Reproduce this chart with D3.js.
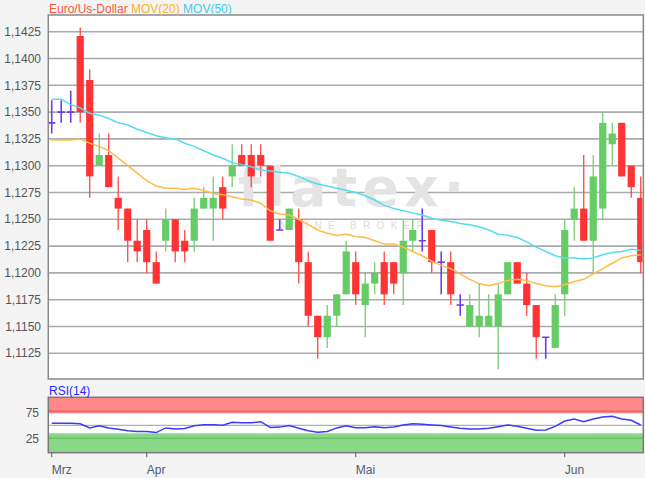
<!DOCTYPE html>
<html><head><meta charset="utf-8">
<script src="https://cdn.jsdelivr.net/npm/d3@7"></script>
<style>
body{margin:0;background:#f4f4f4;}
svg{display:block;font-family:"Liberation Sans",Arial,sans-serif;}
</style>
</head><body><svg id="c" width="645" height="478"></svg>
<script>
const opens=[1.1340,1.1350,1.1350,1.1421,1.1380,1.1300,1.1310,1.1270,1.1260,1.1230,
1.1240,1.1210,1.1230,1.1250,1.1230,1.1230,1.1260,1.1260,1.1280,1.1290,
1.1310,1.1310,1.1310,1.1300,1.1240,1.1240,1.1250,1.1210,1.1160,1.1140,
1.1160,1.1180,1.1210,1.1170,1.1190,1.1210,1.1210,1.1200,1.1230,1.1230,
1.1240,1.1210,1.1210,1.1170,1.1150,1.1150,1.1150,1.1150,1.1180,1.1210,
1.1190,1.1170,1.1140,1.1130,1.1180,1.1250,1.1260,1.1230,1.1260,1.1320,
1.1340,1.1300,1.1270];
const highs=[1.1361,1.1361,1.1370,1.1429,1.1390,1.1330,1.1330,1.1290,1.1260,1.1250,
1.1250,1.1220,1.1260,1.1250,1.1240,1.1270,1.1280,1.1290,1.1290,1.1320,
1.1320,1.1320,1.1320,1.1300,1.1250,1.1260,1.1260,1.1220,1.1160,1.1170,
1.1180,1.1230,1.1220,1.1200,1.1210,1.1220,1.1210,1.1250,1.1250,1.1260,
1.1240,1.1220,1.1220,1.1180,1.1180,1.1190,1.1180,1.1190,1.1210,1.1210,
1.1200,1.1170,1.1140,1.1180,1.1250,1.1280,1.1310,1.1310,1.1350,1.1340,
1.1340,1.1300,1.1290];
const lows=[1.1330,1.1340,1.1340,1.1340,1.1270,1.1300,1.1280,1.1240,1.1210,1.1210,
1.1200,1.1190,1.1220,1.1210,1.1210,1.1220,1.1260,1.1230,1.1250,1.1280,
1.1300,1.1280,1.1290,1.1230,1.1240,1.1240,1.1190,1.1150,1.1120,1.1130,
1.1150,1.1180,1.1170,1.1140,1.1180,1.1170,1.1180,1.1170,1.1220,1.1220,
1.1200,1.1180,1.1170,1.1160,1.1150,1.1140,1.1150,1.1110,1.1180,1.1190,
1.1160,1.1120,1.1120,1.1130,1.1160,1.1230,1.1230,1.1200,1.1250,1.1300,
1.1290,1.1270,1.1200];
const closes=[1.1340,1.1350,1.1350,1.1350,1.1290,1.1310,1.1280,1.1260,1.1230,1.1220,
1.1210,1.1190,1.1250,1.1220,1.1220,1.1260,1.1270,1.1270,1.1260,1.1300,
1.1300,1.1290,1.1300,1.1230,1.1240,1.1260,1.1210,1.1160,1.1140,1.1160,
1.1180,1.1220,1.1180,1.1190,1.1200,1.1180,1.1190,1.1230,1.1240,1.1230,
1.1210,1.1210,1.1180,1.1170,1.1170,1.1160,1.1160,1.1180,1.1210,1.1190,
1.1170,1.1140,1.1140,1.1170,1.1240,1.1260,1.1230,1.1290,1.1340,1.1330,
1.1290,1.1280,1.1210];
const mov20=[1.1324,1.1324,1.1324,1.1325,1.1321,1.1318,1.1314,1.1307,1.1300,1.1293,
1.1286,1.1281,1.1279,1.1279,1.1278,1.1279,1.1277,1.1274,1.1273,1.1271,
1.1269,1.1268,1.1265,1.1258,1.1255,1.1254,1.1250,1.1245,1.1240,1.1237,
1.1235,1.1236,1.1234,1.1233,1.1230,1.1227,1.1227,1.1224,1.1220,1.1216,
1.1211,1.1207,1.1204,1.1199,1.1194,1.1190,1.1188,1.1190,1.1193,1.1194,
1.1193,1.1190,1.1188,1.1187,1.1189,1.1192,1.1194,1.1199,1.1204,1.1209,
1.1214,1.1216,1.1217];
const mov50=[1.1362,1.1362,1.1357,1.1354,1.1349,1.1347,1.1344,1.1340,1.1338,1.1334,
1.1331,1.1328,1.1326,1.1325,1.1321,1.1318,1.1314,1.1310,1.1307,1.1303,
1.1301,1.1299,1.1296,1.1295,1.1294,1.1293,1.1290,1.1286,1.1283,1.1281,
1.1279,1.1277,1.1275,1.1272,1.1268,1.1263,1.1260,1.1258,1.1256,1.1254,
1.1251,1.1249,1.1248,1.1246,1.1245,1.1243,1.1240,1.1236,1.1235,1.1233,
1.1229,1.1224,1.1220,1.1216,1.1214,1.1214,1.1213,1.1214,1.1217,1.1219,
1.1220,1.1222,1.1221];
const rsi=[53.8,53.8,53.8,53,45,49,45,42.5,39.5,38,
38,36,45,43,44,49,51,51,50,56,
55,55,57,46,46.5,49.5,44.5,39.5,36.5,38,
45,49,45.4,45.4,47.3,45.4,46.7,50.6,53.1,51.9,
50.6,49.4,46.7,44.2,42.9,42.9,44.2,47.3,50.6,48,
44.2,40.4,41,48,58.3,62.1,57,62.1,66,67.3,
62.1,59.6,50.6];
const priceTicks=[1.1125,1.1150,1.1175,1.1200,1.1225,1.1250,1.1275,1.1300,1.1325,1.1350,1.1375,1.1400,1.1425];
const rsiTicks=[75,25];
const monthLabels=["Mrz","Apr","Mai","Jun"];
const monthIndex=[0,10,32,54];

const svg=d3.select("#c");
const L=48.3,R=643.3,T=15,B=379, RT=397.3,RB=452.7;
const n=opens.length;
const x=d3.scaleLinear().domain([-0.36,62.27]).range([L,R]);
const y=d3.scaleLinear().domain([1.1101,1.14406]).range([B,T]);
const yr=d3.scaleLinear().domain([0,100]).range([451.3,399.3]);
const fmt=v=>d3.format(".4f")(v).replace(".",",");

svg.append("rect").attr("width",645).attr("height",478).attr("fill","#f4f4f4");
svg.append("rect").attr("x",L).attr("y",T).attr("width",R-L).attr("height",B-T).attr("fill","#fff");

const defs=svg.append("defs");
defs.append("clipPath").attr("id","cp").append("rect").attr("x",L).attr("y",T).attr("width",R-L-0.8).attr("height",B-T);
defs.append("clipPath").attr("id","cr").append("rect").attr("x",L).attr("y",RT).attr("width",R-L).attr("height",RB-RT);

// grid
svg.append("g").selectAll("line").data(priceTicks).join("line")
  .attr("x1",L).attr("x2",R).attr("y1",d=>y(d)).attr("y2",d=>y(d))
  .attr("stroke","#ababab").attr("stroke-width",1.6);
svg.append("g").selectAll("text").data(priceTicks).join("text")
  .attr("x",41).attr("y",d=>y(d)).attr("dy","0.35em").attr("text-anchor","end")
  .attr("font-size",12).attr("fill","#555").text(fmt);

// watermark
const wm=svg.append("g").attr("clip-path","url(#cp)");
wm.append("text").attr("x",238).attr("y",206).attr("font-family","DejaVu Sans").attr("font-weight","bold")
  .attr("font-size",54).attr("letter-spacing",5).attr("fill","#e4e4e4").text("flatex·");
wm.append("text").attr("x",266).attr("y",229).attr("font-size",10).attr("letter-spacing",6.3)
  .attr("fill","#dcdcdc").text("ONLINE BROKER");

// candles
const idx=d3.range(n);
const col=i=>closes[i]>opens[i]?"#66cc66":(closes[i]<opens[i]?"#ff3333":"#6e3ce6");
const wick=i=>closes[i]>opens[i]?"#74cf74":(closes[i]<opens[i]?"#ff4848":"#6e3ce6");
const cg=svg.append("g").attr("clip-path","url(#cp)");
cg.selectAll("line.w").data(idx).join("line").attr("class","w")
  .attr("x1",i=>x(i)).attr("x2",i=>x(i)).attr("y1",i=>y(highs[i])).attr("y2",i=>y(lows[i]))
  .attr("stroke",wick).attr("stroke-width",i=>closes[i]===opens[i]?1.6:1.3);
cg.selectAll("rect.b").data(idx.filter(i=>closes[i]!==opens[i])).join("rect").attr("class","b")
  .attr("x",i=>x(i)-3.6).attr("width",7.2)
  .attr("y",i=>y(Math.max(opens[i],closes[i])))
  .attr("height",i=>Math.max(1,y(Math.min(opens[i],closes[i]))-y(Math.max(opens[i],closes[i]))))
  .attr("fill",col);
cg.selectAll("line.d").data(idx.filter(i=>closes[i]===opens[i])).join("line").attr("class","d")
  .attr("x1",i=>x(i)-3.6).attr("x2",i=>x(i)+3.6).attr("y1",i=>y(closes[i])).attr("y2",i=>y(closes[i]))
  .attr("stroke","#6e3ce6").attr("stroke-width",1.6);

// moving averages
const ln=arr=>d3.line().x((d,i)=>x(i)).y(d=>y(d))(arr);
cg.append("path").attr("d",ln(mov20)).attr("fill","none").attr("stroke","#ffbb44").attr("stroke-width",1.5);
cg.append("path").attr("d",ln(mov50)).attr("fill","none").attr("stroke","#55dcf4").attr("stroke-width",1.5);

svg.append("rect").attr("x",L).attr("y",T).attr("width",R-L).attr("height",B-T)
  .attr("fill","none").attr("stroke","#8a8a8a").attr("stroke-width",1.5);

// title
const t=svg.append("text").attr("x",49).attr("y",12.5).attr("font-size",12);
t.append("tspan").attr("fill","#ff553a").text("Euro/Us-Dollar ");
t.append("tspan").attr("fill","#ffb030").text("MOV(20) ");
t.append("tspan").attr("fill","#3fcbee").text("MOV(50)");

// RSI panel
svg.append("rect").attr("x",L).attr("y",RT).attr("width",R-L).attr("height",RB-RT).attr("fill","#fff");
const rg=svg.append("g").attr("clip-path","url(#cr)");
rg.append("rect").attr("x",L).attr("y",RT).attr("width",R-L).attr("height",yr(73)-RT).attr("fill","#ff8888");
rg.append("rect").attr("x",L).attr("y",yr(34.6)).attr("width",R-L).attr("height",RB-yr(34.6)).attr("fill","#88d888");
rg.append("line").attr("x1",L).attr("x2",R).attr("y1",yr(77)).attr("y2",yr(77)).attr("stroke","#e06868").attr("stroke-width",1.5);
rg.append("line").attr("x1",L).attr("x2",R).attr("y1",yr(25)).attr("y2",yr(25)).attr("stroke","#6abf6a").attr("stroke-width",1.5);
rg.append("line").attr("x1",L).attr("x2",R).attr("y1",yr(50)).attr("y2",yr(50)).attr("stroke","#b0b0b0").attr("stroke-width",1.2);
rg.append("path").attr("d",d3.line().x((d,i)=>x(i)).y(d=>yr(d))(rsi)).attr("fill","none").attr("stroke","#3a3aff").attr("stroke-width",1.5);
svg.append("rect").attr("x",L).attr("y",RT).attr("width",R-L).attr("height",RB-RT)
  .attr("fill","none").attr("stroke","#7a7a7a").attr("stroke-width",1.5);
svg.append("text").attr("x",49).attr("y",395).attr("font-size",12).attr("fill","#2a2aff").text("RSI(14)");
svg.append("g").selectAll("text").data(rsiTicks).join("text")
  .attr("x",39).attr("y",d=>yr(d)).attr("dy","0.35em").attr("text-anchor","end")
  .attr("font-size",12).attr("fill","#555").text(d=>d);

// x axis
const xa=svg.append("g");
xa.selectAll("line").data(monthIndex).join("line")
  .attr("x1",i=>x(i)).attr("x2",i=>x(i)).attr("y1",RB).attr("y2",RB+4.5)
  .attr("stroke","#4d5d72").attr("stroke-width",1);
xa.selectAll("text").data(monthIndex).join("text")
  .attr("x",i=>x(i)).attr("y",473.5).attr("font-size",12).attr("fill","#4d5d72")
  .text((d,k)=>monthLabels[k]);
</script>
</body></html>
